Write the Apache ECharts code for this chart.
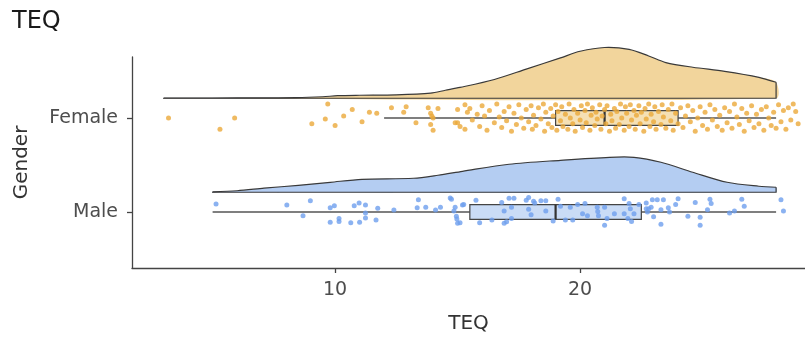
<!DOCTYPE html>
<html><head><meta charset="utf-8">
<script src="https://cdn.jsdelivr.net/npm/echarts@6/dist/echarts.min.js"></script>
<style>html,body{margin:0;padding:0;background:#fff}#c{width:805px;height:338px}</style>
</head><body><div id="c"></div>
<script>
// ---- data ----
const categories = ['Male', 'Female'];
const xTicks = [10, 20];
// [lower whisker, Q1, median, Q3, upper whisker]
const femaleBox = [12, 19, 21, 24, 28];
const maleBox = [5, 15.5, 19, 22.5, 28];
// [TEQ, density height]
const femaleDensity = [[3,0.003],[5,0.003],[7,0.004],[8.4,0.006],[9.5,0.016],[10.1,0.027],[11,0.032],[12.5,0.037],[13.9,0.055],[14.5,0.085],[15.1,0.115],[16.5,0.2],[17.8,0.31],[19.2,0.43],[20,0.5],[21,0.54],[22,0.52],[22.8,0.45],[23.5,0.38],[24.6,0.33],[25.9,0.287],[27.3,0.223],[28,0.17]];
const maleDensity = [[5,0.005],[6,0.016],[7.1,0.043],[8.5,0.074],[9.8,0.106],[11.1,0.138],[13.2,0.149],[14.2,0.181],[15.2,0.223],[17.1,0.298],[19.2,0.34],[21.2,0.372],[22.2,0.372],[23.3,0.319],[24.6,0.213],[26,0.106],[27.3,0.064],[28,0.053]];
// jittered points: [TEQ, vertical jitter]
const femalePoints = [[3.2,0.0],[5.3,-0.12],[5.9,0.0],[9.05,-0.06],[9.6,-0.01],[9.7,0.15],[10.0,-0.08],[10.35,0.02],[10.7,0.09],[11.1,-0.04],[11.4,0.06],[11.7,0.05],[12.3,0.11],[12.8,0.06],[12.9,0.12],[13.3,-0.05],[13.8,0.11],[13.9,0.05],[13.95,0.02],[14.0,0.0],[13.9,-0.07],[14.0,-0.13],[14.2,0.10],[14.9,-0.05],[15.0,-0.05],[15.1,-0.09],[15.0,0.09],[15.3,0.14],[15.4,0.06],
[15.3,-0.12],[15.5,0.10],[15.6,-0.02],[15.8,0.04],[15.9,-0.09],[16.0,0.13],[16.1,0.02],[16.2,-0.13],[16.3,0.08],[16.5,-0.05],[16.6,0.15],[16.7,0.01],[16.8,-0.10],[16.9,0.07],[17.0,-0.03],[17.1,0.12],[17.2,-0.14],[17.3,0.05],[17.4,-0.07],[17.5,0.14],[17.6,0.00],[17.7,-0.11],[17.8,0.09],[17.9,-0.04],[18.0,0.13],[18.05,-0.12],[18.1,0.03],[18.2,-0.08],[18.3,0.11],[18.4,-0.01],[18.5,0.15],[18.55,-0.14],[18.6,0.06],[18.7,-0.06],[18.8,0.10],[18.85,-0.10],[18.9,0.02],[19.0,0.14],[19.05,-0.13],[19.1,0.07],[19.2,-0.03],[19.25,0.12],[19.3,-0.09],[19.4,0.04],[19.5,-0.12],[19.55,0.15],[19.6,0.00],[19.7,-0.06],[19.75,0.09],[19.8,-0.14],[19.9,0.05],[20.0,-0.02],[20.05,0.13],[20.1,-0.10],[20.2,0.08],[20.25,-0.05],[20.3,0.15],[20.4,-0.13],[20.45,0.03],[20.5,0.11],[20.6,-0.08],[20.65,0.06],[20.7,-0.01],[20.8,0.14],[20.85,-0.12],[20.9,0.02],[21.0,0.09],[21.05,-0.06],[21.1,0.13],[21.2,-0.14],[21.25,0.04],[21.3,-0.03],[21.4,0.10],[21.45,-0.11],[21.5,0.07],[21.6,-0.07],[21.65,0.15],[21.7,0.00],[21.8,-0.13],[21.85,0.12],[21.9,0.05],[22.0,-0.09],[22.05,0.14],[22.1,-0.02],[22.2,0.08],[22.25,-0.12],[22.3,0.03],[22.4,0.13],[22.45,-0.06],[22.5,0.06],[22.6,-0.14],[22.65,0.10],[22.7,-0.01],[22.8,0.15],[22.85,-0.09],[22.9,0.04],[23.0,-0.04],[23.05,0.12],[23.1,-0.12],[23.2,0.07],[23.3,-0.07],[23.35,0.14],[23.4,0.01],[23.5,-0.11],[23.6,0.09],[23.7,-0.03],[23.75,0.15],[23.8,-0.13],[23.9,0.05],[24.0,-0.06],[24.1,0.11],[24.2,-0.10],[24.3,0.02],[24.4,0.13],[24.5,-0.04],[24.6,0.08],[24.7,-0.14],[24.8,0.00],[24.9,0.12],[25.0,-0.08],[25.1,0.06],[25.2,-0.12],[25.3,0.14],[25.4,-0.02],[25.5,0.09],[25.6,-0.09],[25.7,0.03],[25.8,-0.13],[25.9,0.11],[26.0,-0.05],[26.1,0.07],[26.2,-0.11],[26.3,0.15],[26.4,0.01],[26.5,-0.07],[26.6,0.10],[26.7,-0.14],[26.8,0.05],[26.9,-0.03],[27.0,0.13],[27.1,-0.10],[27.2,0.04],[27.3,-0.06],[27.4,0.09],[27.5,-0.13],[27.6,0.12],[27.7,0.00],[27.8,-0.08],[27.9,0.06],[28.0,-0.11],[28.1,0.14],[28.2,-0.04],[28.3,0.08],[28.4,-0.12],[28.5,0.11],[28.6,-0.02],[28.7,0.15],[28.8,0.07],[28.9,-0.06]];
const malePoints = [[5.14,0.085],[8.03,0.075],[8.69,-0.04],[8.99,0.12],[9.8,0.045],[9.97,0.066],[9.8,-0.11],[10.16,-0.07],[10.16,-0.10],[10.64,-0.115],[10.78,0.066],[10.98,0.095],[11.0,-0.11],[11.24,0.075],[11.24,-0.01],[11.24,-0.065],[11.67,-0.085],[11.74,0.04],[12.4,0.02],[13.4,0.13],[13.35,0.045],[13.7,0.05],[14.1,0.02],[14.3,0.05],[14.7,0.15],[14.75,0.135],[14.9,0.05],[14.85,0.01],[15.2,0.075],[14.95,-0.045],[14.97,-0.075],[15.0,-0.12],[15.25,0.08],[15.75,0.125],[15.1,-0.115],[15.9,-0.115],[16.4,-0.085],[16.8,0.1],[16.9,0.01],[16.9,-0.12],[17.0,-0.105],[17.1,0.145],[17.3,0.145],[17.2,0.05],[17.2,-0.07],[17.8,0.125],[17.9,0.155],[17.9,0.03],[18.0,-0.03],[18.1,0.115],[18.15,0.095],[18.4,0.12],[18.6,0.12],[18.6,0.01],[18.9,-0.095],[19.1,0.135],[19.2,0.06],[19.4,-0.085],[19.7,-0.085],[19.6,0.05],[19.9,0.08],[20.2,0.09],[20.1,-0.02],[20.3,-0.04],[20.7,0.05],[20.72,0.005],[20.75,-0.04],[21.0,0.05],[21.0,-0.14],[21.1,-0.07],[21.4,-0.02],[21.8,0.14],[21.8,-0.02],[22.0,0.09],[22.05,0.035],[21.95,-0.07],[22.1,-0.1],[22.2,-0.02],[22.4,0.08],[22.7,0.095],[22.7,0.035],[22.75,0.0],[22.8,0.035],[22.9,0.05],[22.95,0.13],[23.15,0.13],[23.0,-0.05],[23.3,0.025],[23.3,-0.13],[23.4,0.13],[23.6,0.045],[23.65,0.0],[23.9,0.08],[24.0,0.14],[24.4,-0.045],[24.7,0.1],[24.9,-0.055],[24.9,-0.14],[25.2,0.025],[25.3,0.135],[25.35,0.09],[26.1,-0.01],[26.3,0.01],[26.6,0.135],[26.7,0.06],[28.2,0.13],[28.3,0.01]];

// ---- rendering ----
const FEMALE = 2, MALE = 1;
const VIOLIN_OFFSET = 0.21, BOX_HALF = 0.078;
const stroke = '#3a3a3a';

function violinRender(density, cat, fill) {
  return function (params, api) {
    const base = cat + VIOLIN_OFFSET;
    const top = density.map(d => api.coord([d[0], base + d[1]]));
    const b0 = api.coord([density[0][0], base]);
    const b1 = api.coord([density[density.length - 1][0], base]);
    return {
      type: 'group',
      children: [
        { type: 'polygon', shape: { points: top.concat([b1, b0]), smooth: 0.3 }, style: { fill: fill, stroke: 'none' } },
        { type: 'polyline', shape: { points: top, smooth: 0.3 }, style: { fill: 'none', stroke: stroke, lineWidth: 1.2 } },
        { type: 'polyline', shape: { points: [top[top.length - 1], b1, b0, top[0]] }, style: { fill: 'none', stroke: stroke, lineWidth: 1.2 } }
      ]
    };
  };
}
function boxRender(box, cat, fill) {
  return function (params, api) {
    const [lo, q1, med, q3, hi] = box;
    const c = api.coord([lo, cat]);
    const pLo = api.coord([lo, cat]), pQ1 = api.coord([q1, cat + BOX_HALF]), pQ3 = api.coord([q3, cat - BOX_HALF]);
    const pMedT = api.coord([med, cat + BOX_HALF]), pMedB = api.coord([med, cat - BOX_HALF]);
    const pHi = api.coord([hi, cat]);
    const q1c = api.coord([q1, cat]), q3c = api.coord([q3, cat]);
    return {
      type: 'group',
      children: [
        { type: 'line', shape: { x1: pLo[0], y1: c[1], x2: q1c[0], y2: c[1] }, style: { stroke: '#555', lineWidth: 1.3 } },
        { type: 'line', shape: { x1: q3c[0], y1: c[1], x2: pHi[0], y2: c[1] }, style: { stroke: '#555', lineWidth: 1.3 } },
        { type: 'rect', shape: { x: pQ1[0], y: pQ1[1], width: pQ3[0] - pQ1[0], height: pQ3[1] - pQ1[1] }, style: { fill: fill, stroke: '#444', lineWidth: 1.2 } },
        { type: 'line', shape: { x1: pMedT[0], y1: pMedT[1], x2: pMedB[0], y2: pMedB[1] }, style: { stroke: '#333', lineWidth: 2.2 } }
      ]
    };
  };
}

const chart = echarts.init(document.getElementById('c'), null, { renderer: 'canvas' });
const axisColor = '#444';
chart.setOption({
  animation: false,
  backgroundColor: '#fff',
  title: { text: 'TEQ', left: 7, top: 5, textStyle: { fontFamily: 'DejaVu Sans', fontSize: 24, fontWeight: 'normal', color: '#1a1a1a' } },
  grid: { left: 132, right: 0, top: 57, bottom: 70, containLabel: false, outerBoundsMode: 'none' },
  xAxis: {
    type: 'value', min: 1.71, max: 29.18,
    name: 'TEQ', nameLocation: 'middle', nameGap: 46,
    nameTextStyle: { fontFamily: 'DejaVu Sans', fontSize: 20, color: '#333' },
    axisLine: { show: true, lineStyle: { color: axisColor, width: 1.3 } },
    axisTick: { show: true, length: 5, customValues: xTicks, lineStyle: { color: axisColor, width: 1.3 } },
    axisLabel: { customValues: xTicks, fontFamily: 'DejaVu Sans', fontSize: 19, color: '#4d4d4d', margin: 13 },
    splitLine: { show: false }
  },
  yAxis: {
    type: 'value', min: 0.404, max: 2.649,
    name: 'Gender', nameLocation: 'middle', nameGap: 100, nameRotate: 90,
    nameTextStyle: { fontFamily: 'DejaVu Sans', fontSize: 20, color: '#333' },
    axisLine: { show: true, lineStyle: { color: axisColor, width: 1.3 } },
    axisTick: { show: true, length: 5, customValues: [1, 2], lineStyle: { color: axisColor, width: 1.3 } },
    axisLabel: { customValues: [1, 2], formatter: v => categories[Math.round(v) - 1], fontFamily: 'DejaVu Sans', fontSize: 19, color: '#4d4d4d', margin: 14 },
    splitLine: { show: false }
  },
  series: [
    { type: 'custom', renderItem: violinRender(femaleDensity, FEMALE, '#F2D59C'), data: [[20, FEMALE]], z: 1, silent: true },
    { type: 'custom', renderItem: violinRender(maleDensity, MALE, '#B4CDF2'), data: [[20, MALE]], z: 1, silent: true },
    { type: 'custom', renderItem: boxRender(femaleBox, FEMALE, 'rgba(242,213,156,0.75)'), data: [[20, FEMALE]], z: 2, silent: true },
    { type: 'custom', renderItem: boxRender(maleBox, MALE, 'rgba(180,205,242,0.7)'), data: [[20, MALE]], z: 2, silent: true },
    { type: 'scatter', data: femalePoints.map(p => [p[0], FEMALE + p[1]]), symbolSize: 5, itemStyle: { color: '#EBA93A', opacity: 0.8 }, z: 3 },
    { type: 'scatter', data: malePoints.map(p => [p[0], MALE + p[1]]), symbolSize: 5, itemStyle: { color: '#6E9FEE', opacity: 0.8 }, z: 3 }
  ]
});
</script>
</body></html>
